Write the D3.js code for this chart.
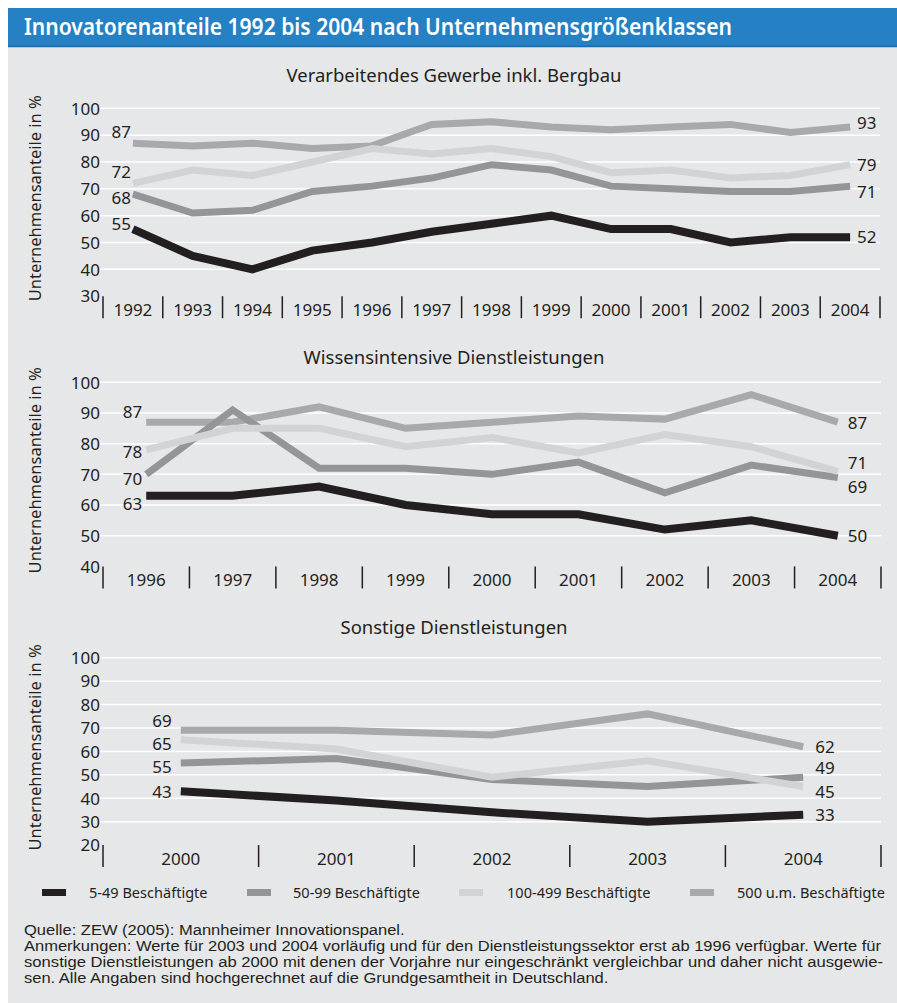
<!DOCTYPE html>
<html>
<head>
<meta charset="UTF-8">
<title>Innovatorenanteile</title>
<script src="https://cdn.jsdelivr.net/npm/d3@7"></script>
<style>
  body { margin: 0; background: #fff; }
  svg { display: block; font-family: "Noto Sans", sans-serif; }
  .tick text { fill: #231f20; }
</style>
</head>
<body>
<svg id="chart" width="897" height="1003"></svg>
<script>
// Daten
var seriesNames = ["5-49 Beschäftigte", "50-99 Beschäftigte", "100-499 Beschäftigte", "500 u.m. Beschäftigte"];
var seriesColors = ["#231f20", "#939598", "#d1d3d4", "#a7a9ac"];

var yearsVG = ["1992","1993","1994","1995","1996","1997","1998","1999","2000","2001","2002","2003","2004"];
var vg5   = [55, 45, 40, 47, 50, 54, 57, 60, 55, 55, 50, 52, 52];
var vg50  = [68, 61, 62, 69, 71, 74, 79, 77, 71, 70, 69, 69, 71];
var vg100 = [72, 77, 75, 80, 85, 83, 85, 82, 76, 77, 74, 75, 79];
var vg500 = [87, 86, 87, 85, 86, 94, 95, 93, 92, 93, 94, 91, 93];
var ticksVG = [30, 40, 50, 60, 70, 80, 90, 100];

var yearsWD = ["1996","1997","1998","1999","2000","2001","2002","2003","2004"];
var wd5   = [63, 63, 66, 60, 57, 57, 52, 55, 50];
var wd50  = [70, 91, 72, 72, 70, 74, 64, 73, 69];
var wd100 = [78, 85, 85, 79, 82, 77, 83, 79, 71];
var wd500 = [87, 87, 92, 85, 87, 89, 88, 96, 87];
var ticksWD = [40, 50, 60, 70, 80, 90, 100];

var yearsSD = ["2000","2001","2002","2003","2004"];
var sd5   = [43, 39, 34, 30, 33];
var sd50  = [55, 57, 48, 45, 49];
var sd100 = [65, 61, 49, 56, 45];
var sd500 = [69, 69, 67, 76, 62];
var ticksSD = [20, 30, 40, 50, 60, 70, 80, 90, 100];

var footerLines = [
  "Quelle: ZEW (2005): Mannheimer Innovationspanel.",
  "Anmerkungen: Werte für 2003 und 2004 vorläufig und für den Dienstleistungssektor erst ab 1996 verfügbar. Werte für",
  "sonstige Dienstleistungen ab 2000 mit denen der Vorjahre nur eingeschränkt vergleichbar und daher nicht ausgewie-",
  "sen. Alle Angaben sind hochgerechnet auf die Grundgesamtheit in Deutschland."
];

var svg = d3.select("#chart");

// Hintergrund + Titelleiste
svg.append("rect").attr("x", 8).attr("y", 46).attr("width", 889).attr("height", 957).attr("fill", "#e6e7e8");
svg.append("rect").attr("x", 8).attr("y", 8).attr("width", 889).attr("height", 38).attr("fill", "#2680c4");
svg.append("line").attr("x1", 8).attr("x2", 897).attr("y1", 46.5).attr("y2", 46.5)
  .attr("stroke", "#1b6aa9").attr("stroke-width", 1.5);
svg.append("text").attr("x", 24).attr("y", 35)
  .attr("fill", "#fff").attr("font-size", 23).attr("font-weight", 600)
  .attr("textLength", 708).attr("lengthAdjust", "spacingAndGlyphs")
  .text("Innovatorenanteile 1992 bis 2004 nach Unternehmensgrößenklassen");

// drei Teilgrafiken
var panels = [
  { title: "Verarbeitendes Gewerbe inkl. Bergbau", titleY: 82, years: yearsVG,
    values: [vg5, vg50, vg100, vg500], ticks: ticksVG, top: 108.3, bottom: 296.2, right: 880,
    leftDx: -2, rightDx: 7, leftDy: [-5, 4, -11, -11], rightDy: [0, 6, 0, -4] },
  { title: "Wissensintensive Dienstleistungen", titleY: 364, years: yearsWD,
    values: [wd5, wd50, wd100, wd500], ticks: ticksWD, top: 382.3, bottom: 566.4, right: 881,
    leftDx: -4, rightDx: 10, leftDy: [8, 5, 2, -10], rightDy: [0, 10, -8, 1] },
  { title: "Sonstige Dienstleistungen", titleY: 634, years: yearsSD,
    values: [sd5, sd50, sd100, sd500], ticks: ticksSD, top: 657.7, bottom: 845.1, right: 881,
    leftDx: -9, rightDx: 12, leftDy: [1, 4, 4, -9], rightDy: [0, -9, 6, 0] }
];

// Zeichenreihenfolge: 500+, 50-99, 100-499, 5-49 oben
var drawOrder = [3, 1, 2, 0];

panels.forEach(function(p) {
  var x = d3.scaleBand().domain(p.years).range([103, p.right]);
  var y = d3.scaleLinear().domain([p.ticks[0], 100]).range([p.bottom, p.top]);
  var cx = function(i) { return x(p.years[i]) + x.bandwidth() / 2; };
  var g = svg.append("g");

  g.append("text").attr("x", 454).attr("y", p.titleY).attr("text-anchor", "middle")
    .attr("font-size", 18.5).attr("fill", "#231f20").text(p.title);

  g.append("text")
    .attr("transform", "translate(41," + ((p.top + p.bottom) / 2 - 4) + ") rotate(-90)")
    .attr("text-anchor", "middle").attr("font-size", 16.5).attr("fill", "#231f20")
    .text("Unternehmensanteile in %");

  // Gitterlinien (ohne unterste)
  g.selectAll(".grid").data(p.ticks.slice(1)).enter().append("line")
    .attr("x1", 100).attr("x2", p.right)
    .attr("y1", function(d) { return y(d); }).attr("y2", function(d) { return y(d); })
    .attr("stroke", "#fff").attr("stroke-width", 1.5);

  // y-Achse
  var ya = g.append("g").attr("transform", "translate(100,0)")
    .call(d3.axisLeft(y).tickValues(p.ticks).tickSize(0).tickPadding(0));
  ya.select(".domain").remove();
  ya.selectAll("text").attr("font-size", 17).attr("font-family", "Noto Sans").attr("dy", "0.34em");

  // x-Achse
  var xa = g.append("g").attr("transform", "translate(0," + p.bottom + ")")
    .call(d3.axisBottom(x).tickSize(0).tickPadding(0));
  xa.select(".domain").remove();
  xa.selectAll("text").attr("font-size", 17).attr("font-family", "Noto Sans").attr("dy", "1.15em");

  var edges = p.years.map(function(d) { return x(d); }).concat([p.right]);
  g.selectAll(".sep").data(edges).enter().append("line")
    .attr("x1", function(d) { return d; }).attr("x2", function(d) { return d; })
    .attr("y1", p.bottom).attr("y2", p.bottom + 22)
    .attr("stroke", "#231f20").attr("stroke-width", 1.5);

  // Linien
  var line = d3.line().x(function(d, i) { return cx(i); }).y(function(d) { return y(d); });
  drawOrder.forEach(function(s) {
    g.append("path").datum(p.values[s])
      .attr("d", line).attr("fill", "none")
      .attr("stroke", seriesColors[s]).attr("stroke-width", s === 0 ? 8 : 7)
      .attr("stroke-linejoin", "miter").attr("stroke-linecap", "butt");
  });

  // Werte am Anfang und Ende
  var last = p.years.length - 1;
  p.values.forEach(function(vals, s) {
    g.append("text").attr("x", cx(0) + p.leftDx).attr("y", y(vals[0]) + p.leftDy[s])
      .attr("dy", "0.35em").attr("text-anchor", "end").attr("font-size", 17).attr("fill", "#231f20")
      .text(vals[0]);
    g.append("text").attr("x", cx(last) + p.rightDx).attr("y", y(vals[last]) + p.rightDy[s])
      .attr("dy", "0.35em").attr("font-size", 17).attr("fill", "#231f20")
      .text(vals[last]);
  });
});

// Legende
var legendX = [42, 247, 459, 690];
var leg = svg.append("g").selectAll("g").data(seriesNames).enter().append("g")
  .attr("transform", function(d, i) { return "translate(" + legendX[i] + ",889)"; });
leg.append("rect").attr("width", 24).attr("height", 7)
  .attr("fill", function(d, i) { return seriesColors[i]; });
var legText = leg.append("text").attr("x", function(d, i) { return [47, 46, 48, 47][i]; }).attr("y", 8.5)
  .attr("font-size", 15).attr("fill", "#231f20").text(function(d) { return d; });
// schmalere Schrift nachbilden
var legScale = 148 / legText.nodes()[3].getComputedTextLength();
legText.each(function() {
  d3.select(this).attr("textLength", this.getComputedTextLength() * legScale)
    .attr("lengthAdjust", "spacingAndGlyphs");
});

// Fußnote
var foot = svg.append("g").selectAll("text").data(footerLines).enter().append("text")
  .attr("x", 24).attr("y", function(d, i) { return 935 + i * 16; })
  .attr("font-family", "Liberation Sans, Arial, sans-serif")
  .attr("font-size", 13.8).attr("fill", "#231f20").text(function(d) { return d; });
var footScale = 857 / foot.nodes()[1].getComputedTextLength();
foot.each(function(d, i) {
  var w = (i === 1 || i === 2) ? (i === 1 ? 857 : 859) : this.getComputedTextLength() * footScale;
  d3.select(this).attr("textLength", w).attr("lengthAdjust", "spacingAndGlyphs");
});
</script>
</body>
</html>
